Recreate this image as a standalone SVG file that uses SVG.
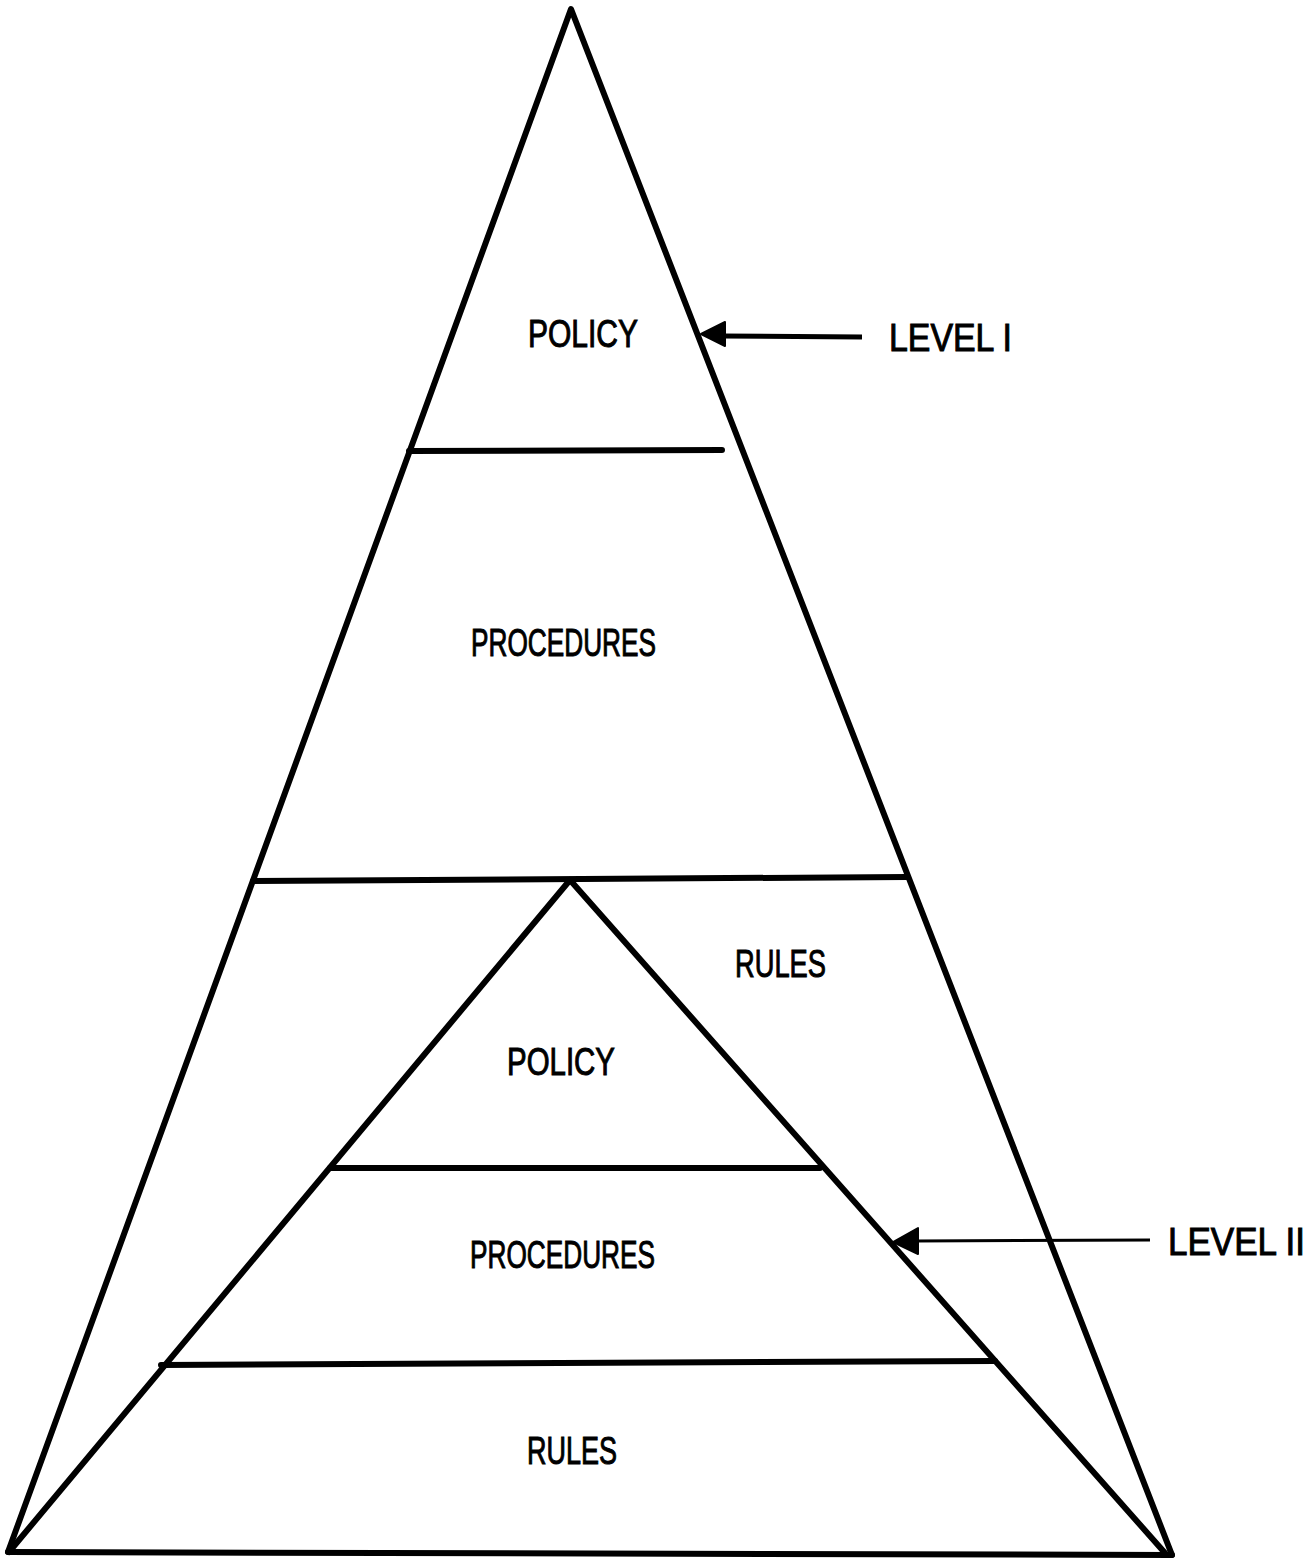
<svg xmlns="http://www.w3.org/2000/svg" width="1314" height="1561" viewBox="0 0 1314 1561">
<style>
.ln{stroke:#000;stroke-width:6;fill:none;stroke-linecap:round;stroke-linejoin:round}
.tx{font-family:"Liberation Sans",Arial,sans-serif;font-size:38px;fill:#000;stroke:#000;stroke-width:1}
.ah{fill:#000;stroke:#000;stroke-width:2;stroke-linejoin:round}
</style>
<rect width="1314" height="1561" fill="#fff"/>
<g id="outer-pyramid">
<polyline class="ln" points="8,1552 571,9 1172,1555"/>
<line class="ln" x1="8" y1="1552" x2="1172" y2="1555"/>
</g>
<g id="level1-policy">
<line class="ln" x1="409" y1="451" x2="722" y2="450"/>
<text class="tx" x="528" y="347" textLength="110" lengthAdjust="spacingAndGlyphs">POLICY</text>
</g>
<g id="level1-procedures">
<line class="ln" x1="253" y1="881" x2="907" y2="877"/>
<text class="tx" x="471" y="656" textLength="185" lengthAdjust="spacingAndGlyphs">PROCEDURES</text>
</g>
<g id="level1-rules">
<text class="tx" x="735" y="977" textLength="91" lengthAdjust="spacingAndGlyphs">RULES</text>
</g>
<g id="inner-pyramid">
<polyline class="ln" points="9,1552 570,880 1165,1553"/>
</g>
<g id="level2-policy">
<line class="ln" x1="330" y1="1168" x2="820" y2="1168"/>
<text class="tx" x="507" y="1075" textLength="108" lengthAdjust="spacingAndGlyphs">POLICY</text>
</g>
<g id="level2-procedures">
<line class="ln" x1="161" y1="1365" x2="995" y2="1361"/>
<text class="tx" x="470" y="1268" textLength="185" lengthAdjust="spacingAndGlyphs">PROCEDURES</text>
</g>
<g id="level2-rules">
<text class="tx" x="527" y="1464" textLength="90" lengthAdjust="spacingAndGlyphs">RULES</text>
</g>
<g id="label-level1">
<text class="tx" x="889" y="351" textLength="123" lengthAdjust="spacingAndGlyphs">LEVEL I</text>
</g>
<g id="label-level2">
<text class="tx" x="1168" y="1255" textLength="137" lengthAdjust="spacingAndGlyphs">LEVEL II</text>
</g>
<g id="connectors">
<line x1="722" y1="336" x2="862" y2="337" stroke="#000" stroke-width="5"/>
<polygon class="ah" points="701,334 725,322 725,346"/>
<line x1="915" y1="1241" x2="1150" y2="1240" stroke="#000" stroke-width="3"/>
<polygon class="ah" points="893,1242 918,1228 918,1254"/>
</g>
</svg>
